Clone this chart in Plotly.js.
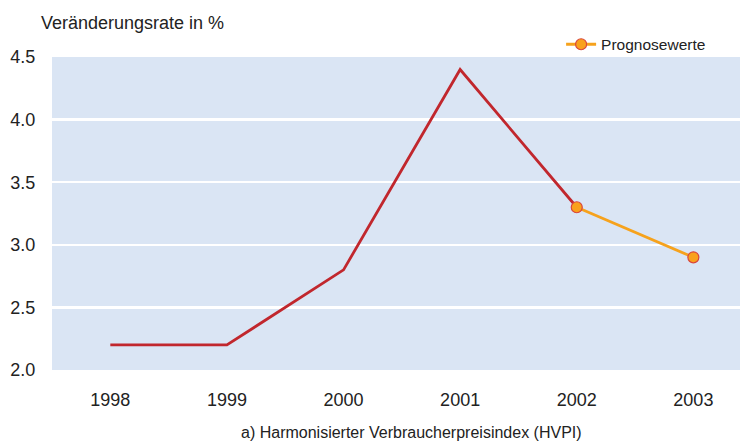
<!DOCTYPE html>
<html><head><meta charset="utf-8">
<script src="https://cdn.plot.ly/plotly-3.0.1.min.js"></script>
<style>html,body{margin:0;padding:0;background:#fff}</style>
</head><body>
<div id="chart" style="width:742px;height:441px"></div>
<script>
const years = ["1998","1999","2000","2001","2002","2003"];
const actualYears = ["1998","1999","2000","2001","2002"];
const actualValues = [2.2, 2.2, 2.8, 4.4, 3.3];
const forecastYears = ["2002","2003"];
const forecastValues = [3.3, 2.9];
const yTicks = [2.0, 2.5, 3.0, 3.5, 4.0, 4.5];

const font = "Liberation Sans, Arial, sans-serif";
const traces = [
  {x: actualYears, y: actualValues, type: "scatter", mode: "lines",
   line: {color: "#c1272d", width: 2.8}, showlegend: false, hoverinfo: "skip"},
  {x: forecastYears, y: forecastValues, type: "scatter", mode: "lines+markers",
   name: "Prognosewerte",
   line: {color: "#f6a21c", width: 2.8},
   marker: {size: 11, color: "#f9a11b", line: {color: "#d9463b", width: 1.2}}}
];
const layout = {
  width: 742, height: 441,
  margin: {l: 52, r: 2, t: 57, b: 71},
  paper_bgcolor: "#ffffff", plot_bgcolor: "#dae5f4",
  font: {family: font, color: "#222222"},
  xaxis: {type: "category", categoryarray: years, range: [-0.5, 5.4],
          showgrid: false, zeroline: false, showline: false,
          ticks: "outside", ticklen: 13, tickcolor: "rgba(0,0,0,0)",
          tickfont: {size: 18, family: font, color: "#222"}},
  yaxis: {range: [2.0, 4.5], tickvals: yTicks, ticktext: yTicks.map(v => v.toFixed(1)),
          showgrid: true, gridcolor: "#ffffff", gridwidth: 2.5,
          zeroline: false, showline: false,
          ticks: "outside", ticklen: 12, tickcolor: "rgba(0,0,0,0)",
          tickfont: {size: 18, family: font, color: "#222"}},
  showlegend: true,
  legend: {x: 0.958, xanchor: "right", y: 0.985, yanchor: "bottom",
           bgcolor: "rgba(0,0,0,0)", font: {size: 15.5, family: font, color: "#222"},
           itemwidth: 30},
  annotations: [
    {text: "Veränderungsrate in %", xref: "paper", yref: "paper", x: -0.019, xanchor: "left",
     y: 1.108, yanchor: "middle", showarrow: false, font: {size: 18, family: font, color: "#222"}},
    {text: "a) Harmonisierter Verbraucherpreisindex (HVPI)", xref: "paper", yref: "paper",
     x: 0.522, xanchor: "center", y: 0, yanchor: "middle", yshift: -62, showarrow: false,
     font: {size: 16, family: font, color: "#222"}}
  ]
};
Plotly.newPlot("chart", traces, layout, {displayModeBar: false, staticPlot: true});
</script>
</body></html>
